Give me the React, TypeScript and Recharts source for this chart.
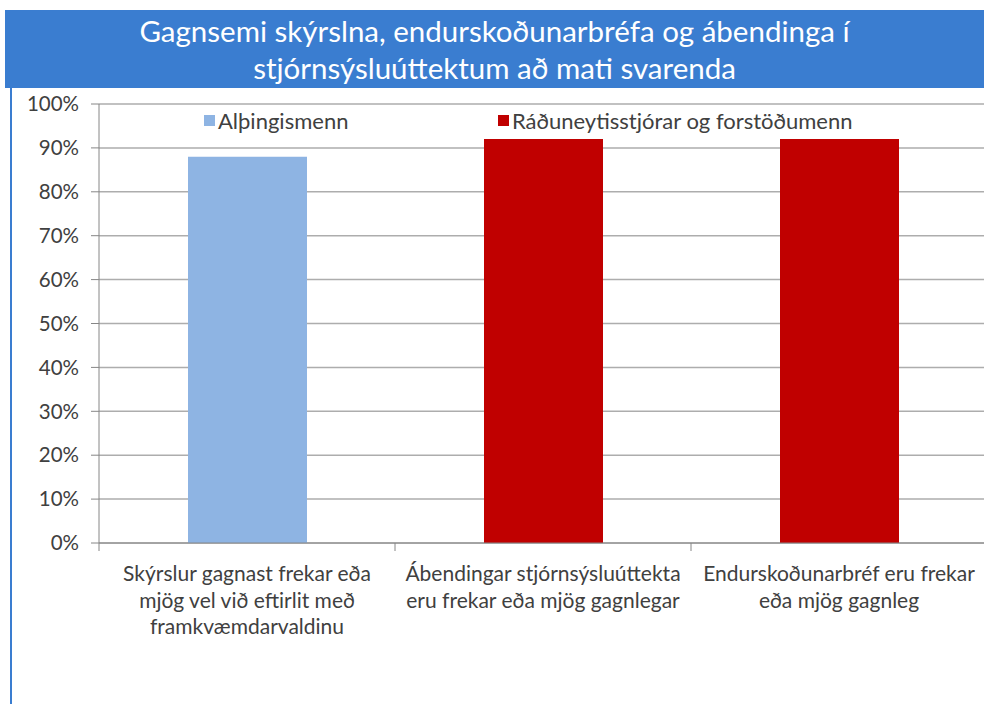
import { Bar, BarChart, CartesianGrid, XAxis, YAxis } from "recharts";

// Gagnsemi skýrslna — two respondent groups, one bar per statement.
const categories = [
  "Skýrslur gagnast frekar eða\nmjög vel við eftirlit með\nframkvæmdarvaldinu",
  "Ábendingar stjórnsýsluúttekta\neru frekar eða mjög gagnlegar",
  "Endurskoðunarbréf eru frekar\neða mjög gagnleg",
];
const althingismenn = [88, null, null];
const raduneytisstjorar = [null, 92, 92];
const yTicks = [0, 10, 20, 30, 40, 50, 60, 70, 80, 90, 100];

const SERIES = [
  { key: "alth", name: "Alþingismenn", color: "#8EB4E3" },
  { key: "rad", name: "Ráðuneytisstjórar og forstöðumenn", color: "#C00000" },
];

const rows = categories.map((c, i) => ({
  cat: c,
  alth: althingismenn[i],
  rad: raduneytisstjorar[i],
}));

const FONT = "Lato, 'Open Sans', sans-serif";
const TEXT = "#404040";
const CHART_W = 990;
const Y_AXIS_W = 99;
const MARGIN_RIGHT = 3;
const STEP = (CHART_W - Y_AXIS_W - MARGIN_RIGHT) / categories.length;

function CategoryTick(props: any) {
  const { x, y, payload } = props;
  const lines = String(payload.value).split("\n");
  return (
    <g>
      <line x1={x - STEP / 2} x2={x - STEP / 2} y1={y - 8} y2={y} stroke="#868686" />
      <text x={x} y={y + 30} textAnchor="middle" fontFamily={FONT} fontSize={21} fill={TEXT}>
        {lines.map((l, i) => (
          <tspan key={i} x={x} dy={i === 0 ? 0 : 26.5}>
            {l}
          </tspan>
        ))}
      </text>
    </g>
  );
}

// Legend sits inside the plot area, like the original; drawn as an overlay so it
// does not push the plot down.
function LegendRow() {
  return (
    <div
      style={{
        position: "absolute",
        left: 204,
        top: 107,
        display: "flex",
        fontFamily: FONT,
        fontSize: 22,
        color: TEXT,
        whiteSpace: "nowrap",
      }}
    >
      {SERIES.map((s, i) => (
        <div key={s.key} style={{ width: i === 0 ? 294 : "auto", display: "flex", alignItems: "center" }}>
          <span style={{ width: 11, height: 11, background: s.color, marginRight: 3, display: "inline-block" }} />
          <span>{s.name}</span>
        </div>
      ))}
    </div>
  );
}

export default function App() {
  return (
    <div
      style={{
        position: "absolute",
        top: 0,
        left: 0,
        width: 984,
        height: 704,
        overflow: "hidden",
        background: "#fff",
      }}
    >
      <div
        style={{
          position: "absolute",
          left: 5,
          top: 10,
          width: 979,
          height: 78,
          background: "#3A7DD0",
          color: "#fff",
          fontFamily: FONT,
          fontSize: 29.5,
          lineHeight: "37px",
          textAlign: "center",
          paddingTop: 2,
          boxSizing: "border-box",
        }}
      >
        Gagnsemi skýrslna, endurskoðunarbréfa og ábendinga í
        <br />
        stjórnsýsluúttektum að mati svarenda
      </div>
      <div style={{ position: "absolute", left: 10, top: 88, width: 2, height: 616, background: "#3A7DD0" }} />
      <div style={{ position: "absolute", left: 0, top: 0 }}>
        <BarChart
          width={CHART_W}
          height={704}
          data={rows}
          margin={{ top: 104, right: MARGIN_RIGHT, left: 0, bottom: 61 }}
        >
          <CartesianGrid vertical={false} stroke="#ADADAD" strokeWidth={1.5} />
          <XAxis
            dataKey="cat"
            height={100}
            interval={0}
            tickLine={false}
            axisLine={{ stroke: "#868686" }}
            tick={<CategoryTick />}
          />
          <YAxis
            width={Y_AXIS_W}
            domain={[0, 100]}
            ticks={yTicks}
            interval={0}
            tickFormatter={(v: number) => `${v}%`}
            tickSize={8}
            tickMargin={12}
            tickLine={{ stroke: "#868686" }}
            axisLine={{ stroke: "#868686" }}
            tick={{ fontFamily: FONT, fontSize: 20.5, fill: TEXT }}
          />
          {SERIES.map((s) => (
            <Bar
              key={s.key}
              dataKey={s.key}
              name={s.name}
              stackId="a"
              fill={s.color}
              barSize={119}
              isAnimationActive={false}
            />
          ))}
        </BarChart>
      </div>
      <LegendRow />
    </div>
  );
}
